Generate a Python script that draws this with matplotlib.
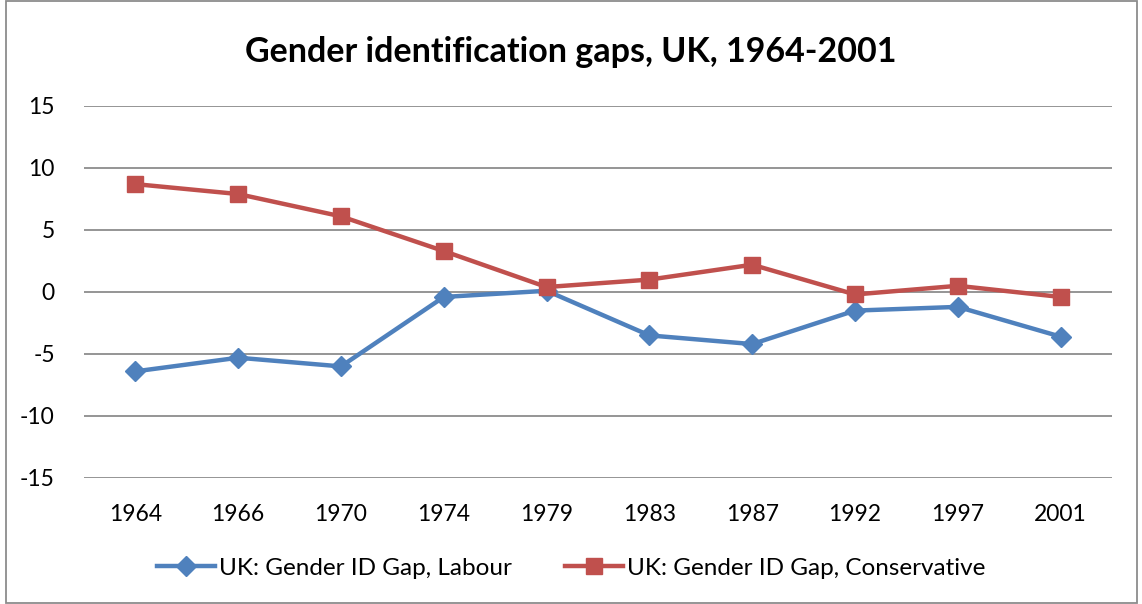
import matplotlib
matplotlib.use("Agg")
import matplotlib.pyplot as plt
from matplotlib.patches import Rectangle

years = ["1964", "1966", "1970", "1974", "1979", "1983", "1987", "1992", "1997", "2001"]
labour = [-6.4, -5.3, -6.0, -0.4, 0.1, -3.5, -4.2, -1.5, -1.2, -3.6]
conservative = [8.7, 7.9, 6.1, 3.3, 0.4, 1.0, 2.2, -0.2, 0.5, -0.4]
yticks = [-15, -10, -5, 0, 5, 10, 15]

plt.rcParams['font.family'] = ['Lato', 'DejaVu Sans']

fig = plt.figure(figsize=(11.42, 6.04), dpi=100)
ax = fig.add_axes([84/1142, 1-478/604, (1112-84)/1142, (478-106)/604])

x = list(range(len(years)))
ax.plot(x, labour, color="#4F81BD", lw=3.2, marker="D", ms=10, mec="#4F81BD", mfc="#4F81BD",
        label="UK: Gender ID Gap, Labour", solid_joinstyle="round", zorder=3)
ax.plot(x, conservative, color="#C0504D", lw=3.2, marker="s", ms=12, mec="#C0504D", mfc="#C0504D",
        label="UK: Gender ID Gap, Conservative", solid_joinstyle="round", zorder=3)

ax.set_xlim(-0.5, len(years)-0.5)
ax.set_ylim(-15, 15)
ax.set_yticks(yticks)
ax.set_yticklabels([str(v) for v in yticks])
ax.set_xticks(x)
ax.set_xticklabels(years)
ax.grid(axis='y', color="#8C8C8C", lw=1.3)
ax.set_axisbelow(True)
for s in ax.spines.values():
    s.set_visible(False)
ax.tick_params(axis='both', length=0, labelsize=16.5, colors="black")
ax.tick_params(axis='y', pad=21)
ax.tick_params(axis='x', pad=19)

fig.text(0.5, 1-52/604, "Gender identification gaps, UK, 1964-2001", ha="center", va="center",
         fontsize=24.5, fontweight="bold")

fig.legend(loc="center", bbox_to_anchor=(0.5, 1-568/604), ncol=2, frameon=False, fontsize=17.5,
           handlelength=2.4, columnspacing=2.2, handletextpad=0.15)

fig.patches.append(Rectangle((6/1142, 0.002), (1137-6)/1142, 0.996, transform=fig.transFigure,
                             fill=False, edgecolor="#8C8C8C", lw=1.3))

fig.savefig("out.png", dpi=100)
